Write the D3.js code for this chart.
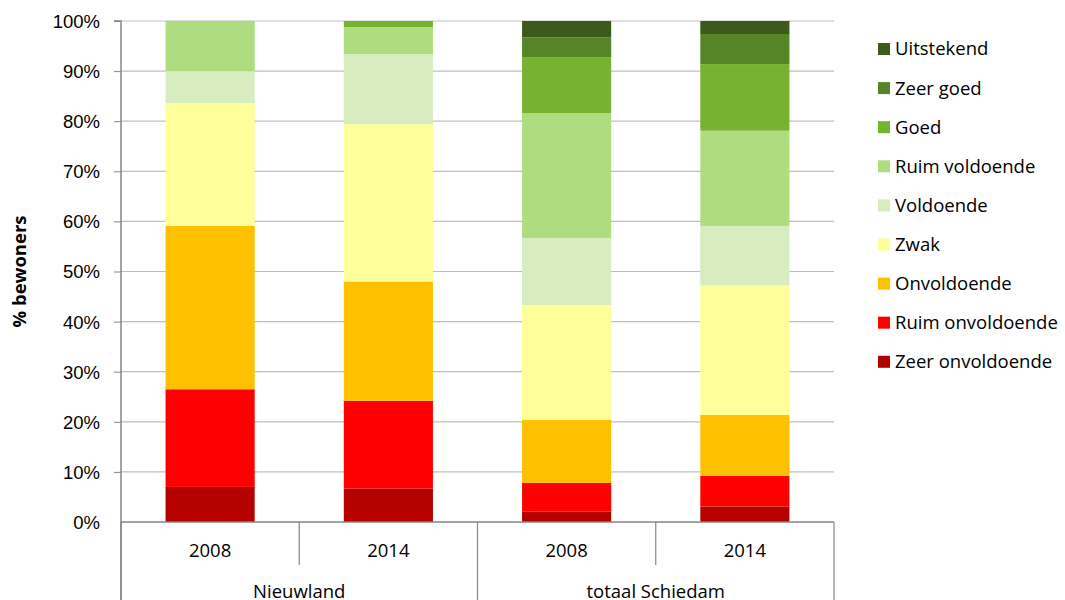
<!DOCTYPE html>
<html><head><meta charset="utf-8">
<script src="https://cdn.jsdelivr.net/npm/d3@7"></script>
<style>body{margin:0;background:#fff}svg{display:block;font-family:"Open Sans",Lato,sans-serif}</style>
</head><body><svg id="c" width="1065" height="600"></svg>
<script>
const groups = ["Nieuwland","Nieuwland","totaal Schiedam","totaal Schiedam"];
const years = ["2008","2014","2008","2014"];
const seriesNames = ["Zeer onvoldoende","Ruim onvoldoende","Onvoldoende","Zwak","Voldoende","Ruim voldoende","Goed","Zeer goed","Uitstekend"];
const colors = ["#b50000","#ff0000","#ffc000","#ffff99","#d7edbf","#afdc7e","#78b231","#568527","#3c5a19"];
const zeerOnvoldoende = [7.0, 6.7, 2.1, 3.1];
const ruimOnvoldoende = [19.5, 17.5, 5.7, 6.1];
const onvoldoende     = [32.6, 23.8, 12.6, 12.2];
const zwak            = [24.5, 31.4, 22.9, 25.8];
const voldoende       = [6.4, 14.0, 13.4, 11.9];
const ruimVoldoende   = [10.0, 5.4, 24.9, 19.0];
const goed            = [0, 1.2, 11.1, 13.3];
const zeerGoed        = [0, 0, 4.0, 6.0];
const uitstekend      = [0, 0, 3.3, 2.6];
const yTicks = [0,10,20,30,40,50,60,70,80,90,100];

const values = [zeerOnvoldoende,ruimOnvoldoende,onvoldoende,zwak,voldoende,ruimVoldoende,goed,zeerGoed,uitstekend];
const rows = years.map((y,i)=>{const r={key:i}; seriesNames.forEach((s,j)=>r[s]=values[j][i]); return r;});
const stacked = d3.stack().keys(seriesNames)(rows);

const svg = d3.select("#c");
const L=121, R=834, T=21, B=522;
const FS=18.5;
const x = d3.scaleBand().domain(d3.range(years.length)).range([L,R]).paddingInner(0.5).paddingOuter(0.25);
const y = d3.scaleLinear().domain([0,100]).range([B,T]);

// gridlines
svg.append("g").selectAll("line").data(yTicks.filter(d=>d>0)).join("line")
  .attr("x1",L).attr("x2",R).attr("y1",d=>y(d)).attr("y2",d=>y(d))
  .attr("stroke","#bfbfbf").attr("stroke-width",1.2);

// bars
svg.append("g").selectAll("g").data(stacked).join("g").attr("fill",(d,i)=>colors[i])
  .selectAll("rect").data(d=>d).join("rect")
  .attr("x",(d,i)=>x(i)).attr("width",x.bandwidth())
  .attr("y",d=>y(d[1])).attr("height",d=>Math.max(0,y(d[0])-y(d[1])));

// y axis
const yAxis = d3.axisLeft(y).tickValues(yTicks).tickFormat(d=>d+"%").tickSize(7).tickPadding(14);
const ga = svg.append("g").attr("transform",`translate(${L},0)`).call(yAxis);
ga.select(".domain").attr("stroke","#868686").attr("stroke-width",1.5).attr("d",`M-7,${T}H0V600`);
ga.selectAll(".tick line").attr("stroke","#868686");
ga.selectAll("text").attr("font-size",FS).attr("fill","#000").attr("dy","0.35em");
ga.selectAll(".tick").filter(d=>d===0).select("line").attr("x2",0);

svg.append("text").attr("transform",`translate(26,${(T+B)/2}) rotate(-90)`)
  .attr("text-anchor","middle").attr("font-size",FS).attr("font-weight","bold").text("% bewoners");

// category axis
svg.append("line").attr("x1",L).attr("x2",R).attr("y1",B).attr("y2",B).attr("stroke","#868686").attr("stroke-width",1.5);
const bounds = d3.range(years.length+1).map(i=>L+i*(R-L)/years.length);
svg.append("g").selectAll("line").data(bounds).join("line")
  .attr("x1",d=>d).attr("x2",d=>d).attr("y1",B)
  .attr("y2",(d,i)=> (i%2===0)?600:565)
  .attr("stroke","#868686").attr("stroke-width",1.2);
svg.append("g").selectAll("text").data(years).join("text")
  .attr("x",(d,i)=>x(i)+x.bandwidth()/2).attr("y",551).attr("dy","0.35em")
  .attr("text-anchor","middle").attr("font-size",FS).text(d=>d);
const groupNames = Array.from(new Set(groups));
svg.append("g").selectAll("text").data(groupNames).join("text")
  .attr("x",g=>{const idx=groups.map((v,i)=>v===g?i:-1).filter(i=>i>=0); return (bounds[idx[0]]+bounds[idx[idx.length-1]+1])/2;})
  .attr("y",592).attr("dy","0.35em")
  .attr("text-anchor","middle").attr("font-size",FS).text(d=>d);

// legend
const legendItems = seriesNames.map((s,i)=>({s,c:colors[i]})).reverse();
const lg = svg.append("g").selectAll("g").data(legendItems).join("g")
  .attr("transform",(d,i)=>`translate(878,${49+i*39.1})`);
lg.append("rect").attr("x",0).attr("y",-6).attr("width",12).attr("height",12).attr("fill",d=>d.c);
lg.append("text").attr("x",17).attr("dy","0.35em").attr("font-size",FS).text(d=>d.s);
</script></body></html>
